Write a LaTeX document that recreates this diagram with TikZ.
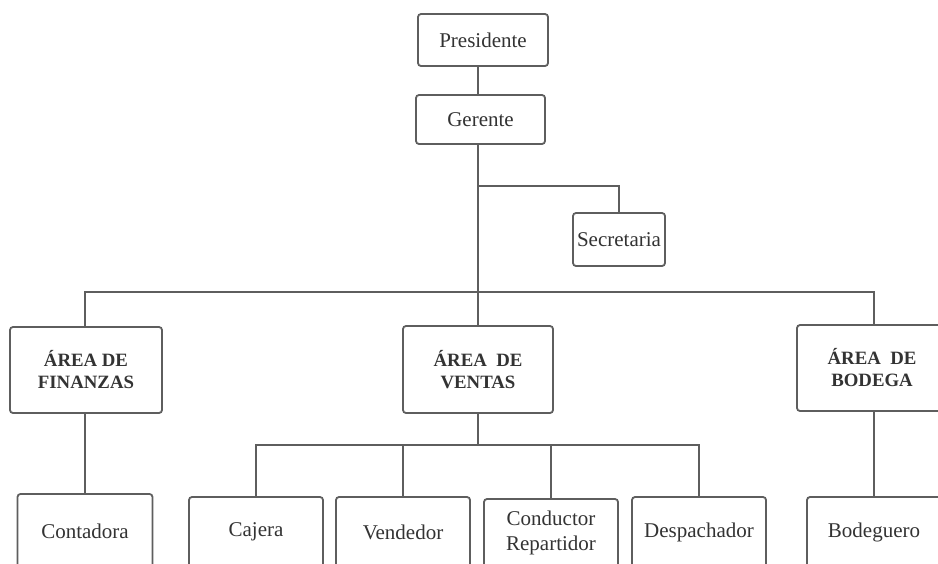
\documentclass[tikz,border=0pt]{standalone}
\usepackage{fontspec}
\setmainfont{Liberation Serif}
\begin{document}
\begin{tikzpicture}[x=1pt,y=-1pt,
  box/.style={draw=boxline, line width=1.8pt, rounded corners=3pt, fill=white,
    text=ink, font=\fontsize{21}{25}\selectfont, align=center, inner sep=0pt},
  areabox/.style={box, font=\fontsize{18.8}{22}\selectfont\bfseries},
  conn/.style={draw=boxline, line width=1.8pt}]
\definecolor{boxline}{HTML}{5E5E5E}
\definecolor{ink}{HTML}{333333}
\clip (0,0) rectangle (938,563);
\useasboundingbox (0,0) rectangle (938,563);

% top of the hierarchy
\node[box, minimum width=130pt, minimum height=52pt] (pres) at (483,40) {Presidente};
\node[box, minimum width=129pt, minimum height=49pt] (ger) at (480.5,119.5) {Gerente};
\node[box, minimum width=92pt, minimum height=53pt] (sec) at (619,239.5) {Secretaria};

% areas
\node[areabox, minimum width=152pt, minimum height=86pt] (fin) at (86,370) {ÁREA DE\\FINANZAS};
\node[areabox, minimum width=150pt, minimum height=87pt] (ven) at (478,369.5) {ÁREA\ \ DE\\VENTAS};
\node[areabox, minimum width=150pt, minimum height=86pt] (bod) at (872,368) {ÁREA\ \ DE\\BODEGA};

% staff
\node[box, minimum width=135pt, minimum height=74pt] (cont) at (85,531) {Contadora};
\node[box, minimum width=134pt, minimum height=70pt] (caj) at (256,532) {Cajera};
\node[box, minimum width=134pt, minimum height=70pt] (vend) at (403,532) {Vendedor};
\node[box, minimum width=134pt, minimum height=68pt] (cond) at (551,533) {Conductor\\Repartidor};
\node[box, minimum width=134pt, minimum height=70pt] (desp) at (699,532) {Despachador};
\node[box, minimum width=134pt, minimum height=70pt] (bodq) at (874,532) {Bodeguero};

% junction points of the connectors
\coordinate (sj) at (478,186);
\coordinate (bar) at (0,292);
\coordinate (sub) at (0,445);

\draw[conn] (pres.south -| ven) -- (ger.north -| ven);
\draw[conn] (ger.south -| ven) -- (ven.north);
\draw[conn] (sj) -| (sec.north);
\draw[conn] (fin.north -| cont) |- (bar -| bodq) -- (bod.north -| bodq);
\draw[conn] (fin.south -| cont) -- (cont.north);
\draw[conn] (ven.south) -- (sub -| ven);
\draw[conn] (caj.north) |- (sub -| desp) -- (desp.north);
\draw[conn] (sub -| vend) -- (vend.north);
\draw[conn] (sub -| cond) -- (cond.north);
\draw[conn] (bod.south -| bodq) -- (bodq.north);
\end{tikzpicture}
\end{document}
